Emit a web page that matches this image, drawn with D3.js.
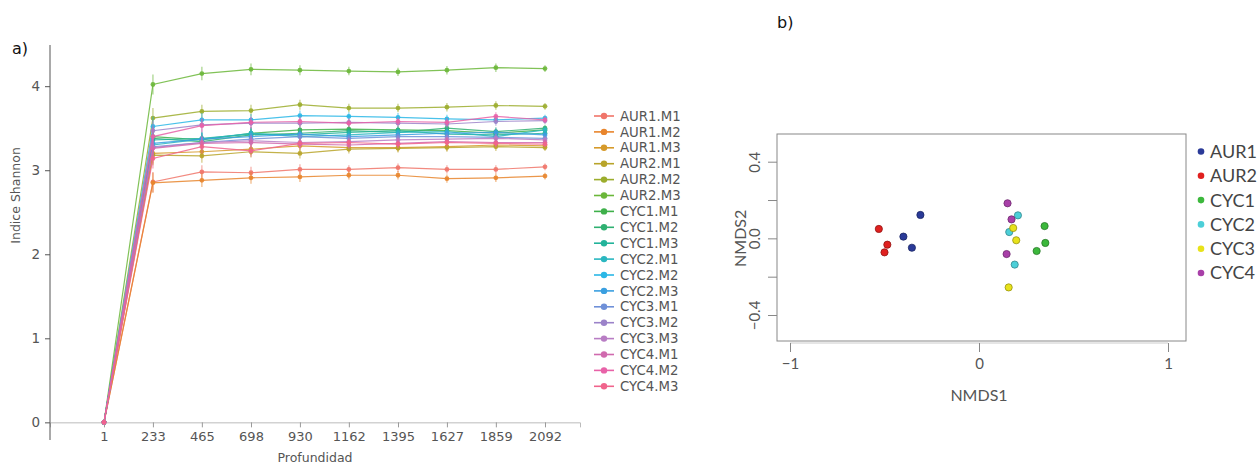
<!DOCTYPE html>
<html>
<head>
<meta charset="utf-8">
<script src="https://cdn.jsdelivr.net/npm/d3@7"></script>
<style>
  body { margin: 0; background: #fff; }
  svg { display: block; }
</style>
</head>
<body>
<div id="chart"></div>
<script>
// data: panel a) rarefaction of Shannon index
const depths = [1, 233, 465, 698, 930, 1162, 1395, 1627, 1859, 2092];
const seriesNames = ["AUR1.M1", "AUR1.M2", "AUR1.M3", "AUR2.M1", "AUR2.M2", "AUR2.M3",
  "CYC1.M1", "CYC1.M2", "CYC1.M3", "CYC2.M1", "CYC2.M2", "CYC2.M3",
  "CYC3.M1", "CYC3.M2", "CYC3.M3", "CYC4.M1", "CYC4.M2", "CYC4.M3"];
const shannon = [
  [0, 2.86, 2.98, 2.97, 3.01, 3.01, 3.03, 3.01, 3.01, 3.04],
  [0, 2.85, 2.88, 2.91, 2.92, 2.94, 2.94, 2.90, 2.91, 2.93],
  [0, 3.20, 3.22, 3.25, 3.29, 3.27, 3.27, 3.28, 3.30, 3.29],
  [0, 3.18, 3.17, 3.22, 3.20, 3.25, 3.26, 3.27, 3.28, 3.27],
  [0, 3.62, 3.70, 3.71, 3.78, 3.74, 3.74, 3.75, 3.77, 3.76],
  [0, 4.02, 4.15, 4.20, 4.19, 4.18, 4.17, 4.19, 4.22, 4.21],
  [0, 3.40, 3.36, 3.44, 3.48, 3.49, 3.48, 3.47, 3.44, 3.48],
  [0, 3.38, 3.34, 3.42, 3.44, 3.47, 3.45, 3.50, 3.46, 3.50],
  [0, 3.36, 3.38, 3.43, 3.42, 3.45, 3.47, 3.43, 3.42, 3.44],
  [0, 3.30, 3.37, 3.44, 3.40, 3.42, 3.45, 3.46, 3.40, 3.48],
  [0, 3.52, 3.60, 3.60, 3.65, 3.64, 3.63, 3.61, 3.60, 3.62],
  [0, 3.32, 3.37, 3.40, 3.43, 3.40, 3.42, 3.44, 3.45, 3.42],
  [0, 3.28, 3.33, 3.37, 3.40, 3.38, 3.40, 3.40, 3.39, 3.38],
  [0, 3.47, 3.54, 3.56, 3.56, 3.57, 3.56, 3.55, 3.58, 3.59],
  [0, 3.27, 3.33, 3.35, 3.33, 3.34, 3.36, 3.37, 3.38, 3.36],
  [0, 3.26, 3.32, 3.33, 3.31, 3.30, 3.32, 3.34, 3.33, 3.33],
  [0, 3.40, 3.53, 3.57, 3.58, 3.56, 3.58, 3.57, 3.64, 3.60],
  [0, 3.14, 3.28, 3.23, 3.32, 3.33, 3.31, 3.33, 3.32, 3.31]
];
// typical error half-width per depth
const errHalf = [0, 0.12, 0.08, 0.07, 0.06, 0.05, 0.05, 0.05, 0.05, 0.04];
const yTicksA = [0, 1, 2, 3, 4];

// data: panel b) NMDS
const groups = ["AUR1", "AUR2", "CYC1", "CYC2", "CYC3", "CYC4"];
const nmds1 = [-0.31, -0.40, -0.355, -0.53, -0.485, -0.50, 0.347, 0.351, 0.305,
  0.206, 0.16, 0.189, 0.181, 0.197, 0.157, 0.151, 0.172, 0.146];
const nmds2 = [0.122, 0.009, -0.049, 0.049, -0.033, -0.073, 0.064, -0.024, -0.066,
  0.12, 0.033, -0.137, 0.054, -0.010, -0.256, 0.183, 0.099, -0.082];
const pointGroup = [0, 0, 0, 1, 1, 1, 2, 2, 2, 3, 3, 3, 4, 4, 4, 5, 5, 5];
const xTicksB = [-1, 0, 1];
const yTicksB = [-0.4, -0.2, 0, 0.2, 0.4];

const lineColors = ["#f0756a", "#e8852c", "#d69a2a", "#b8a42a", "#9cad2d", "#6bb73a",
  "#3eb04a", "#2fb071", "#22b39a", "#2ab7c0", "#2ab7e6", "#3a9fe0",
  "#6f90d8", "#9b82c9", "#b87dc4", "#d06aae", "#e862a8", "#f0648c"];
const groupColors = ["#2a3a98", "#e0201f", "#3cb83c", "#4ccfd8", "#e8e21a", "#a83fa8"];

const svg = d3.select("#chart").append("svg")
  .attr("width", 1260)
  .attr("height", 466);

// ---------- panel a ----------
const fontA = "'DejaVu Sans', sans-serif";
const xA = d3.scaleLinear().domain([-255, 2258]).range([50, 580]);
const yA = d3.scaleLinear().domain([-0.21, 4.49]).range([440, 45]);

svg.append("text").attr("x", 12).attr("y", 54)
  .style("font-family", fontA).attr("font-size", 16).attr("fill", "#111").text("a)");

// zero baseline with depth ticks
const xAxisA = d3.axisBottom(xA).tickValues(depths).tickSize(5).tickPadding(4).tickFormat(d3.format("d"));
const gx = svg.append("g").attr("transform", `translate(0,${yA(0)})`).call(xAxisA);
gx.select(".domain").attr("stroke", "#bbb");
gx.selectAll(".tick line").attr("stroke", "#999");
gx.selectAll("text").style("font-family", fontA).attr("font-size", 13).attr("fill", "#555");

const yAxisA = d3.axisLeft(yA).tickValues(yTicksA).tickSize(5).tickPadding(5).tickFormat(d3.format("d"));
const gy = svg.append("g").attr("transform", "translate(50,0)").call(yAxisA);
gy.select(".domain").attr("stroke", "#555").attr("d", `M0,${yA.range()[1]}V${yA.range()[0]}`);
gy.selectAll(".tick line").attr("stroke", "#555");
gy.selectAll("text").style("font-family", fontA).attr("font-size", 13.5).attr("fill", "#555");

svg.append("text").attr("x", 315).attr("y", 462)
  .attr("text-anchor", "middle").style("font-family", fontA).attr("font-size", 12.5)
  .attr("fill", "#555").text("Profundidad");
svg.append("text").attr("transform", `translate(20,${yA(2.7)}) rotate(-90)`)
  .attr("text-anchor", "middle").style("font-family", fontA).attr("font-size", 12.5)
  .attr("fill", "#555").text("Indice Shannon");

const line = d3.line().x((d, i) => xA(depths[i])).y(d => yA(d));
shannon.forEach((vals, s) => {
  const g = svg.append("g");
  g.selectAll("line.err").data(vals).join("line")
    .attr("x1", (d, i) => xA(depths[i])).attr("x2", (d, i) => xA(depths[i]))
    .attr("y1", (d, i) => yA(d - errHalf[i])).attr("y2", (d, i) => yA(d + errHalf[i]))
    .attr("stroke", lineColors[s]).attr("stroke-width", 1.6).attr("opacity", 0.45);
  g.append("path").datum(vals).attr("d", line)
    .attr("fill", "none").attr("stroke", lineColors[s]).attr("stroke-width", 1.2).attr("opacity", 0.85);
  g.selectAll("circle").data(vals).join("circle")
    .attr("cx", (d, i) => xA(depths[i])).attr("cy", d => yA(d)).attr("r", 2.4)
    .attr("fill", lineColors[s]).attr("opacity", 0.9);
});

// legend a
const legA = svg.append("g").selectAll("g").data(seriesNames).join("g")
  .attr("transform", (d, i) => `translate(594,${116 + i * 15.9})`);
legA.append("line").attr("x1", 0).attr("x2", 20)
  .attr("stroke", (d, i) => lineColors[i]).attr("stroke-width", 1.6);
legA.append("circle").attr("cx", 10).attr("r", 3.2).attr("fill", (d, i) => lineColors[i]);
legA.append("text").attr("x", 26).attr("dy", "0.35em")
  .style("font-family", fontA).attr("font-size", 13.3).attr("fill", "#555").text(d => d);

// ---------- panel b ----------
const fontB = "Lato, sans-serif";
const xB = d3.scaleLinear().domain([-1, 1]).range([790, 1168]);
const yB = d3.scaleLinear().domain([-0.4, 0.4]).range([315, 161.7]);
const box = { x0: 777, x1: 1186, y0: 134, y1: 341 };

svg.append("text").attr("x", 777).attr("y", 28)
  .style("font-family", fontA).attr("font-size", 16).attr("fill", "#111").text("b)");

svg.append("rect").attr("x", box.x0).attr("y", box.y0)
  .attr("width", box.x1 - box.x0).attr("height", box.y1 - box.y0)
  .attr("fill", "none").attr("stroke", "#888").attr("stroke-width", 1);

const xAxisB = d3.axisBottom(xB).tickValues(xTicksB).tickSize(9).tickPadding(6).tickFormat(d3.format("d"));
const gxb = svg.append("g").attr("transform", "translate(0,343)").call(xAxisB);
gxb.select(".domain").attr("stroke", "#ccc").attr("d", `M${xB(-1)},0H${xB(1)}`);
gxb.selectAll(".tick line").attr("stroke", "#888");
gxb.selectAll("text").style("font-family", fontB).attr("font-size", 15).attr("fill", "#555");

const yAxisB = d3.axisLeft(yB).tickValues(yTicksB).tickSize(9)
  .tickFormat(d => (d === 0.4 || d === 0 || d === -0.4) ? d3.format(".1f")(d) : "");
const gyb = svg.append("g").attr("transform", `translate(${box.x0},0)`).call(yAxisB);
gyb.select(".domain").remove();
gyb.selectAll(".tick line").attr("stroke", "#888");
gyb.selectAll("text")
  .style("font-family", fontB).attr("font-size", 15).attr("fill", "#555")
  .attr("text-anchor", "middle").attr("dy", null).attr("x", null)
  .attr("transform", "translate(-17,0) rotate(-90)");

svg.append("text").attr("x", xB(0)).attr("y", 401)
  .attr("text-anchor", "middle").style("font-family", fontB).attr("font-size", 16)
  .attr("fill", "#555").text("NMDS1");
svg.append("text").attr("transform", `translate(746,${yB(0)}) rotate(-90)`)
  .attr("text-anchor", "middle").style("font-family", fontB).attr("font-size", 16)
  .attr("fill", "#555").text("NMDS2");

svg.append("g").selectAll("circle").data(nmds1).join("circle")
  .attr("cx", d => xB(d)).attr("cy", (d, i) => yB(nmds2[i])).attr("r", 3.6)
  .attr("fill", (d, i) => groupColors[pointGroup[i]])
  .attr("stroke", (d, i) => d3.color(groupColors[pointGroup[i]]).darker(1.2))
  .attr("stroke-width", 0.8);

const legB = svg.append("g").selectAll("g").data(groups).join("g")
  .attr("transform", (d, i) => `translate(1201,${151.5 + i * 24.3})`);
legB.append("circle").attr("r", 3.3).attr("fill", (d, i) => groupColors[i]);
legB.append("text").attr("x", 9).attr("dy", "0.36em")
  .style("font-family", fontB).attr("font-size", 18).attr("fill", "#444").text(d => d);
</script>
</body>
</html>
